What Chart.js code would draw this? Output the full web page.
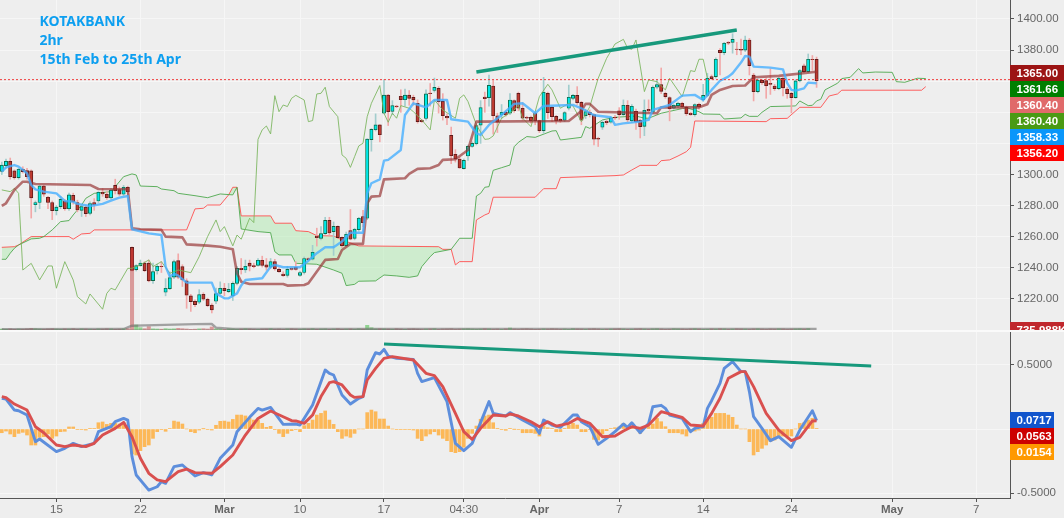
<!DOCTYPE html>
<html><head><meta charset="utf-8">
<script src="https://cdn.jsdelivr.net/npm/chart.js@4/dist/chart.umd.min.js"></script>
<style>
html,body{margin:0;padding:0;background:#eeeeee;width:1064px;height:518px;overflow:hidden}
canvas{position:absolute;left:0;display:block}
#sep{position:absolute;left:0;top:330px;width:1064px;height:1.5px;background:#fafafa}
</style></head><body>
<canvas id="main" width="1064" height="331" style="top:0"></canvas>
<canvas id="osc" width="1064" height="187" style="top:331px"></canvas>
<script>
const titleLines=["KOTAKBANK","2hr","15th Feb to 25th Apr"];
const xTickIdx=[13,33,53,71,91,110,128,147,167,188,212,232];
const xTickText=["15","22","Mar","10","17","04:30","Apr","7","14","24","May","7"];
const priceTicks=[1400,1380,1360,1340,1320,1300,1280,1260,1240,1220];
const macdTicks=[0.5,0,-0.5];
const priceTagText=["1365.00","1361.66","1360.40","1360.40","1358.33","1356.20"];
const priceTagColor=["#9c1414","#007f00","#e06a6a","#4a9a14","#0a96fa","#ff0000"];
const macdTagText=["0.0717","0.0563","0.0154"];
const macdTagColor=["#1155cc","#cc0000","#ff9900"];
const volumeTagText="735.988K";

const candleOpen=[1302,1305.7,1308.5,1302.3,1298,1303.4,1302.5,1302.3,1280.6,1282,1292.6,1285.4,1282,1276.8,1279.4,1283,1278,1286.6,1282,1277,1279,1275,1282,1283,1288.6,1287.3,1285,1293,1290.3,1287.3,1291.8,1253.2,1238.9,1241.4,1243,1243,1231.8,1238,1241,1224.3,1226.6,1234,1244.6,1240.8,1231.6,1222,1218.5,1217.9,1223,1219.8,1216,1218.5,1223.6,1226.9,1224.7,1222,1230,1239.7,1238.6,1243,1241.4,1241.6,1244.9,1242,1240.4,1244,1239,1236,1235.2,1239.7,1240.4,1235.2,1237,1246,1245.5,1260.5,1259,1262,1270.5,1263.3,1266.7,1259.6,1254.3,1264,1259,1264.6,1273,1271.9,1322.4,1328.8,1331.9,1339.4,1351,1340.6,1344,1350.3,1348.1,1351,1349.6,1345.8,1334.9,1336,1352.4,1354,1355.4,1347,1337.4,1325.2,1313,1310,1303.8,1311.9,1318,1319.8,1331.8,1349.8,1349.4,1356.9,1337.8,1338.3,1340,1339.4,1347.5,1352.2,1342.6,1336.8,1336.8,1339.4,1334.6,1328.2,1352.2,1343.2,1337.4,1335.5,1334.9,1342.6,1349,1350.9,1346.4,1337.9,1340,1338.5,1323.3,1330.4,1334.2,1333.6,1336.8,1341,1338.5,1344.5,1334.6,1340.7,1334.9,1331,1341.9,1340.2,1356.1,1357.8,1352.2,1349.4,1342.6,1344.3,1345.8,1343.2,1339.4,1338.5,1345.2,1348.1,1350.9,1362.9,1362.9,1379.9,1378.4,1385,1385,1380.6,1380.5,1380,1386.5,1364,1353.3,1360.6,1360.4,1358.6,1356.9,1355.2,1361.9,1355,1352.2,1349.4,1360.2,1369.8,1366.2,1374.1,1374];
const candleClose=[1306,1308.5,1298.6,1298,1303.4,1301.9,1298.6,1285,1282,1292.6,1287.3,1282,1276.8,1279,1284,1278,1286.9,1282.4,1277.2,1279.4,1274.9,1281.3,1280.6,1288.6,1287.5,1285.1,1290,1289.6,1287.3,1291.8,1289,1238.4,1241.4,1243,1238.2,1231.6,1237.6,1241,1240.8,1226.9,1233.7,1244,1234,1232.2,1222.4,1218.3,1216.4,1222.8,1219.8,1215.7,1213,1223.4,1226.9,1225.4,1226.2,1230,1239.7,1238.9,1241,1241,1240.8,1244.9,1241.6,1240.4,1244,1239.3,1237.6,1235,1239,1239,1239,1237,1246,1245.3,1250,1259.4,1262,1270.5,1262.4,1266.7,1259.4,1254.3,1261.6,1258.4,1264.8,1271.9,1269,1322.8,1329,1331.9,1325.6,1351,1340.4,1344.3,1343.6,1348.1,1351,1349,1348,1334,1334,1351.8,1352,1356,1346.8,1337.8,1336.4,1312.1,1310.2,1304.2,1309.1,1318.1,1320,1331.4,1343,1348.8,1357.3,1337.8,1333.6,1340,1338.3,1347.9,1341.1,1342.6,1336.2,1336.2,1334.6,1334.6,1328.2,1352.9,1339.8,1337.2,1334.6,1334.6,1339.8,1349.7,1350.9,1346.2,1334.9,1340.4,1338.5,1322.7,1322.7,1333.6,1333.4,1336.4,1336.4,1338.5,1344.5,1335.1,1343.9,1334,1330.8,1341.3,1340.9,1356.1,1357.8,1353.5,1350.1,1342.4,1344.5,1345.8,1343.7,1339.1,1338.5,1344.9,1343.4,1350.9,1361.9,1361.6,1374.1,1378.4,1384.4,1384.4,1386.9,1380.4,1379.9,1386.5,1370,1353.3,1360.6,1359,1357.1,1358,1355.2,1361.9,1355.7,1352,1349.4,1360.2,1366.8,1366.2,1374.1,1373.9,1360.4];
const candleHigh=[1308,1310,1310.6,1303,1304,1305,1304,1303,1283,1293,1293,1286,1283,1280,1286,1284,1288,1288,1283.5,1281,1280,1282.5,1284.5,1289,1291,1289,1291,1297,1292,1293,1292.5,1253.5,1242,1245,1244,1245,1243,1242.5,1244,1233,1237.5,1245,1249,1242,1233,1223,1219.5,1226,1224,1220.5,1217,1227,1231,1230,1230,1231,1241,1246,1245,1245,1243,1246,1247.5,1246,1246,1245.5,1240,1237.5,1241,1240,1244,1238,1247,1246.5,1254.5,1265.5,1266.5,1272.5,1272.5,1269.5,1267,1260,1263,1277.5,1265.5,1272.5,1277,1323,1329.5,1339,1332,1361,1351.5,1347.5,1344.5,1354.5,1355,1354,1351,1348,1335.5,1354.5,1358.5,1362,1356.5,1352,1339,1330.5,1316,1311,1310,1319,1321,1332,1347.5,1353,1364,1360.5,1339.5,1345,1341,1352,1348,1353,1346,1337.5,1337.5,1340,1335,1362.5,1353,1344,1338,1336,1340.5,1357.5,1351.5,1356.5,1347,1342,1341.5,1339,1324,1334.5,1335,1337,1338,1343,1348,1347.5,1345,1342,1335.5,1348,1348,1357,1361,1368.5,1353,1350,1345,1346.5,1346.5,1344,1340,1345.5,1346,1358,1365,1364,1375,1381,1385,1385.5,1390.5,1385,1387,1389,1387.5,1365,1361.5,1361,1362,1368,1358,1362.5,1362.5,1356,1353,1361,1367.5,1371,1377.5,1376.5,1375.5];
const candleLow=[1300,1304,1297,1297,1297,1301,1297,1272,1276,1278,1286,1278,1271,1274,1278,1277,1277,1281,1276,1273,1273,1274,1277,1282,1286,1284,1284,1287.5,1286.5,1286.5,1286.5,1238,1238,1241,1237.5,1231,1230,1236,1237,1222,1226,1233,1233,1228,1214,1212,1215,1217,1219,1215,1211,1217,1223,1222,1224,1219,1229,1236,1237,1238,1240,1241,1240.5,1238.5,1239.5,1238.5,1237,1234.5,1234,1238.5,1238.5,1234.5,1236,1244.5,1245,1254,1258,1261.5,1261,1248,1259,1253,1253.5,1258,1258,1263.5,1266.5,1271,1315,1328,1321,1339,1331.5,1338.5,1343,1340,1344,1344.5,1344.5,1333,1333.5,1335,1344,1353,1339.5,1335,1332,1307,1308,1304,1303.5,1309,1317.5,1319,1320,1340,1344,1326,1327,1336,1337.5,1338.5,1340,1341,1335,1335.5,1333,1332,1327,1326.5,1336,1334,1332.5,1333.5,1334,1341.5,1348,1345,1332,1336,1337,1319,1318,1329,1332,1333,1335.5,1335.5,1338,1334,1333.5,1329,1323.5,1325,1340,1339,1355,1352,1349,1334.5,1342,1343,1342.5,1338,1338,1337.5,1342,1347,1350,1361,1362,1364,1377,1383.5,1378,1377,1377,1379,1364,1347.3,1352.5,1358,1349,1351.5,1354,1354.5,1350.5,1349,1339.6,1349,1359.5,1365.5,1365.5,1367,1356];
const volume=[600,550,650,500,600,550,650,800,700,600,550,650,700,600,550,650,600,700,550,650,600,550,500,650,600,700,650,550,600,700,750,24300,1800,1000,700,1300,650,600,550,700,600,650,800,700,600,500,550,650,700,600,1200,650,600,500,700,650,550,600,700,650,550,500,600,650,700,550,600,500,650,700,600,550,650,600,700,550,600,650,500,600,700,550,600,650,550,700,600,1700,1000,650,700,650,600,550,700,600,500,650,700,600,550,600,650,700,500,600,650,700,550,600,650,700,600,550,600,700,650,550,600,500,650,900,600,550,650,700,600,500,550,650,600,700,650,550,600,500,700,650,600,550,650,700,600,500,550,600,650,700,600,500,550,650,700,600,550,650,700,600,500,550,700,650,600,550,650,700,600,500,550,650,600,700,650,550,600,700,650,600,550,650,700,600,550,650,600,700,650,550,600,650,700,600,736];
const volumeMaIdx=[0,29,31,34,46,50,51,55,194];
const volumeMaVal=[550,600,1590,1700,2050,2100,1000,600,600];

const tenkanIdx=[0,1,3,4,6,7,8,10,13,15,17,18,21,24,26,28,30,31,35,38,39,40,41,42,44,50,51,53,54,56,57,58,62,64,65,67,71,73,75,77,79,81,83,86,87,88,90,91,92,95,96,98,101,103,106,107,111,113,114,116,118,119,122,124,127,129,136,138,141,145,146,148,152,154,155,159,162,165,167,169,171,173,174,176,177,178,179,183,186,187,188,189,191,192,194];
const tenkanVal=[1301.9,1304.6,1306.1,1305.1,1300.8,1293.3,1290.5,1289,1287.9,1283,1282.6,1281.1,1279.8,1281.1,1283.2,1285.1,1286.2,1264.8,1262.2,1261.1,1240.8,1234.4,1236.1,1235,1230.5,1230.5,1223.6,1220.4,1220.4,1223.6,1228.7,1232.2,1233.3,1240.8,1241.9,1240.4,1240.4,1244.6,1249.4,1253.2,1253.2,1256.9,1262.6,1262.6,1287.9,1294.4,1296.9,1308.9,1309.4,1315.8,1338.3,1345.8,1343.2,1347.9,1347.9,1335.5,1334,1326.5,1325.4,1331.9,1336.2,1338.3,1345.4,1345.8,1339.4,1344.1,1344.7,1342.6,1338.1,1336.8,1331.9,1332.9,1334,1335.1,1341.5,1344.7,1350.7,1351.2,1347.9,1354.4,1360.3,1362.9,1365.1,1372,1376.2,1375.8,1369.4,1368.7,1367.6,1358.7,1354.4,1353.9,1355.4,1359.1,1358.7];
const kijunIdx=[0,1,3,5,6,8,21,23,30,31,33,38,39,43,44,49,52,55,56,57,59,67,68,72,73,77,80,81,83,86,87,88,90,91,96,97,99,102,104,105,108,111,113,135,138,139,140,142,146,156,157,166,168,169,171,174,177,179,185,194];
const kijunVal=[1279.8,1281.5,1290.1,1295.4,1295.4,1293.9,1293.3,1290.7,1290.5,1265.4,1264.8,1264.4,1260.1,1259.6,1255.1,1254.3,1253.6,1251.9,1236.5,1231.1,1229.6,1229.6,1228.6,1229,1230.1,1245.1,1245.7,1251.5,1255.4,1255.4,1281.5,1285.8,1286.2,1296.9,1297.6,1300.4,1303.6,1304,1306.1,1309.4,1309.8,1315.8,1334,1334.4,1340.9,1345.4,1345.4,1340.4,1340,1339.4,1343.2,1343.2,1345.2,1351.2,1354.4,1356.9,1357.2,1362.5,1363.4,1366.1];
const chikouIdx=[0,2,3,4,5,7,9,11,12,13,15,17,18,20,21,24,25,26,27,30,31,33,35,36,38,40,42,45,47,49,51,52,53,55,56,57,59,60,61,62,63,64,65,66,67,68,69,70,72,73,74,75,76,77,78,80,81,82,83,84,85,86,87,88,90,91,92,93,94,95,97,98,100,102,103,105,108,109,110,111,113,115,116,117,119,122,123,124,126,128,130,131,133,135,136,138,140,142,144,146,148,149,150,151,153,154,156,158,159,162,164,165,166,167,168];
const chikouVal=[1290.1,1289,1291.1,1287.9,1238.6,1242.9,1232.2,1241.2,1241.2,1226.9,1244,1232.2,1221.5,1216.8,1223.2,1213.4,1223.6,1226.9,1225.8,1239.7,1239.7,1241.9,1245.1,1240.8,1244,1236.5,1238.6,1236.9,1247.2,1260.1,1270.8,1263.3,1266.5,1254.1,1261.1,1258.4,1271.9,1269.1,1322.6,1328.7,1331.2,1326.1,1350.7,1340.4,1344.7,1343.7,1349,1350.9,1347.9,1334,1334.7,1351.8,1352.2,1356.1,1343.7,1337.2,1312.6,1310.4,1304.6,1311.5,1318.4,1320.1,1337.2,1345.8,1357.2,1339.4,1333.6,1339.4,1336.2,1344.3,1342.6,1340.4,1335.1,1328.7,1347.9,1341.5,1336.2,1349,1351.2,1346.9,1331.9,1322.6,1322.9,1324.8,1336.2,1341.5,1344.7,1336.2,1330.8,1350.1,1358,1354.4,1342.6,1345.8,1344.1,1334,1343.6,1361.9,1374.7,1383.9,1386.9,1381.2,1380.5,1386.5,1353.3,1360.8,1359.7,1354.4,1361.9,1350.1,1366.8,1366.2,1374.1,1374.1,1362];
const spanAIdx=[0,1,2,3,4,7,9,10,12,14,16,17,19,20,22,26,27,29,31,32,33,37,38,41,42,46,49,52,55,56,57,61,64,65,66,69,70,75,79,81,82,84,85,89,91,94,97,99,100,102,103,107,109,112,113,114,115,116,117,119,121,122,123,125,127,131,132,133,138,139,140,143,146,151,153,154,157,163,166,167,171,172,176,177,178,180,181,183,189,190,192,193,194,195,196,199,200,202,204,205,208,212,213,215,218,220];
const spanAVal=[1245.5,1245.5,1249.4,1252.6,1254.7,1258.6,1259,1260.1,1264.4,1269.7,1270.4,1274,1280.4,1284.7,1287.9,1289,1292.2,1298.6,1300.4,1299.7,1292.6,1292.2,1290.7,1289.6,1287.9,1286.4,1285.1,1287.5,1286.9,1291.8,1265,1263.3,1262.6,1250.4,1248.3,1248.3,1242.9,1242.3,1238.6,1236.5,1228.6,1229.4,1231.4,1231.6,1235.4,1234.8,1233.9,1234.8,1240.8,1247.2,1249.8,1251.9,1259,1259,1286.2,1287.9,1291.8,1292.2,1302.7,1304.4,1306.1,1317.9,1320.7,1324.4,1323.9,1328,1328.2,1322.2,1323.9,1330.8,1329.7,1335.1,1336.8,1337.6,1336.2,1336.2,1339.4,1343,1340.4,1338.9,1338.7,1335.7,1336.4,1338.7,1337.4,1337.4,1340,1343.7,1344.1,1347.3,1344.3,1344.5,1347.3,1348.4,1354.4,1358.7,1361.7,1362.5,1368.1,1365.3,1365.9,1365.7,1359.7,1359.3,1361.9,1361.7];
const spanBIdx=[0,3,4,7,16,17,19,21,22,44,46,48,49,52,54,55,56,57,64,65,69,70,73,75,79,81,85,104,105,107,108,109,112,113,115,116,117,127,129,132,133,146,148,150,152,156,157,159,161,163,164,165,182,183,187,190,195,197,199,200,219,220];
const spanBVal=[1253.2,1253.6,1254.7,1260.1,1260.1,1258.4,1261.8,1262.2,1264.4,1264.4,1277.9,1278.3,1280.4,1280.4,1286.9,1291.8,1291.8,1273.4,1273.4,1268.7,1268.7,1263.9,1263.3,1260.7,1260.5,1257.9,1254.1,1253.6,1251.9,1251.9,1241.9,1244,1244,1270.8,1274,1275.1,1285.4,1285.4,1290.9,1290.9,1298,1299.3,1299.7,1302.9,1305.9,1305.9,1308.9,1309.4,1311.9,1314.7,1317.5,1334.4,1334,1335.9,1336.1,1343.2,1343.2,1350.5,1351.8,1354.2,1354.2,1356.5];
const lastPriceLine=1361;
const priceTrendIdx=[113,175];
const priceTrendVal=[1365.9,1392.9];
const macdTrendIdx=[91,207];
const macdTrendVal=[0.664,0.492];

const macdIdx=[0,1,3,4,6,8,9,13,15,17,19,22,23,26,27,29,30,31,32,35,37,38,39,41,43,46,48,50,52,55,56,59,61,62,64,67,70,71,74,77,78,79,81,83,85,86,87,89,90,91,92,94,98,99,100,103,106,108,110,112,116,117,120,121,124,127,128,129,131,133,136,137,138,140,142,144,146,148,149,150,152,154,155,157,158,159,162,164,165,167,168,169,171,172,174,176,177,178,179,181,183,185,188,190,193,194];
const macdVal=[0.24,0.234,0.148,0.143,0.109,-0.099,-0.078,-0.177,-0.151,-0.112,-0.138,-0.112,-0.021,0.018,0.057,0.083,0.07,-0.216,-0.359,-0.477,-0.451,-0.411,-0.424,-0.294,-0.281,-0.367,-0.341,-0.359,-0.229,-0.125,-0.021,0.091,0.161,0.148,0.169,0.036,0.039,0.031,0.188,0.461,0.435,0.422,0.266,0.195,0.24,0.253,0.461,0.596,0.586,0.622,0.57,0.552,0.544,0.435,0.37,0.401,0.214,-0.112,-0.169,-0.112,0.214,0.122,0.102,0.128,0.07,0.018,-0.034,0.07,0.031,0.013,0.109,0.109,0.057,0.018,-0.12,-0.073,-0.021,0.039,0.013,0.049,-0.029,0.044,0.174,0.185,0.161,0.109,0.083,-0.021,0.005,0.018,0.161,0.221,0.357,0.474,0.526,0.448,0.448,0.292,0.096,0.005,-0.091,-0.06,-0.143,-0.008,0.143,0.065];
const signalIdx=[0,1,3,6,8,10,13,15,17,20,22,24,27,29,31,33,35,37,39,42,44,46,50,52,55,58,61,64,67,69,70,72,74,76,78,79,81,83,84,86,87,89,91,93,98,101,103,105,108,110,112,114,117,120,121,123,126,128,130,132,135,137,140,143,146,148,150,152,154,157,162,164,167,169,171,173,176,177,179,182,185,188,190,193,194];
const signalVal=[0.253,0.245,0.195,0.148,0.018,-0.029,-0.125,-0.138,-0.125,-0.138,-0.112,-0.047,0.005,0.052,-0.06,-0.229,-0.346,-0.398,-0.411,-0.333,-0.313,-0.341,-0.346,-0.294,-0.203,-0.047,0.083,0.141,0.096,0.065,0.063,0.044,0.109,0.253,0.362,0.37,0.344,0.266,0.247,0.253,0.383,0.474,0.552,0.565,0.539,0.435,0.417,0.331,0.122,-0.021,-0.081,0.005,0.109,0.102,0.117,0.102,0.057,0.018,0.057,0.023,0.044,0.083,0.044,-0.06,-0.055,-0.016,0.018,0.005,0.031,0.135,0.091,0.031,0.023,0.122,0.24,0.396,0.448,0.448,0.331,0.122,-0.008,-0.091,-0.065,0.063,0.065];
const histVal=[-0.029,-0.016,-0.039,-0.06,-0.034,-0.026,-0.047,-0.125,-0.125,-0.065,-0.06,-0.039,-0.073,-0.055,-0.021,-0.018,0.016,0.016,-0.003,-0.003,-0.008,0.005,0.005,0.049,0.055,0.036,0.044,0.044,0.039,0.049,0.023,-0.195,-0.203,-0.169,-0.138,-0.125,-0.073,-0.021,-0.005,-0.018,0.003,0.062,0.055,0.039,0,-0.021,-0.029,-0.008,0.001,-0.003,-0.008,0.029,0.06,0.062,0.055,0.075,0.109,0.109,0.102,0.083,0.07,0.07,0.044,0.013,0.021,-0.005,-0.034,-0.06,-0.034,-0.013,-0.005,-0.021,0.026,0.044,0.07,0.109,0.122,0.141,0.07,0.036,-0.021,-0.073,-0.055,-0.065,-0.034,0,0,0.128,0.148,0.135,0.078,0.078,0.023,0,-0.003,-0.003,-0.003,-0.003,-0.008,-0.073,-0.091,-0.055,-0.039,-0.021,-0.047,-0.073,-0.091,-0.177,-0.185,-0.177,-0.143,-0.073,-0.034,0.023,0.076,0.102,0.109,0.049,0.002,-0.005,-0.01,0.005,-0.001,-0.003,-0.029,-0.029,-0.029,-0.034,-0.055,0.023,0.01,0.003,-0.021,-0.021,0.005,0.031,0.044,0.031,-0.021,-0.021,-0.003,-0.081,-0.086,-0.039,-0.013,0.003,0.01,0.016,0.044,0.018,0.018,0.005,-0.034,0.005,0.018,0.039,0.083,0.057,0.018,-0.029,-0.029,-0.029,-0.039,-0.055,-0.021,-0.016,-0.008,0.044,0.07,0.091,0.122,0.122,0.122,0.109,0.091,0.031,0,0,-0.099,-0.203,-0.177,-0.151,-0.125,-0.099,-0.086,-0.06,-0.055,-0.055,-0.055,0,0.044,0.049,0.07,0.083,0.005];

const FONT='"Liberation Sans", Arial, sans-serif';
const xMin=-0.43,xMax=240.05,AXIS='#555555',GRID='#f6f6f6',LABEL='#666666';
const pts=(idx,val)=>idx.map((x,k)=>({x,y:val[k]}));
const line=(label,idx,val,color,width,order,extra)=>Object.assign({type:'line',label,data:pts(idx,val),borderColor:color,borderWidth:width,pointRadius:0,tension:0,fill:false,order,yAxisID:'y',borderJoinStyle:'round'},extra||{});
const bar=(label,data,color,thick,order,extra)=>Object.assign({type:'bar',label,data,backgroundColor:color,barThickness:thick,grouped:false,order,borderSkipped:false,yAxisID:'y'},extra||{});
const isUp=i=>candleClose[i]>candleOpen[i];
const wick=up=>candleHigh.map((h,i)=>isUp(i)===up?{x:i,y:[candleLow[i],h]}:null).filter(Boolean);
const body=up=>candleOpen.map((o,i)=>isUp(i)===up?{x:i,y:[Math.min(o,candleClose[i]),Math.max(o,candleClose[i])]}:null).filter(Boolean);
const vol=up=>volume.map((v,i)=>isUp(i)===up?{x:i,y:v}:null).filter(Boolean);
const noPad=s=>{s.paddingLeft=0;s.paddingRight=0;s.paddingTop=0;s.paddingBottom=0;};

const xScale=(showLabels)=>({type:'linear',min:xMin,max:xMax,offset:false,
  afterBuildTicks:s=>{s.ticks=xTickIdx.map(v=>({value:v}));},
  afterFit:s=>{s.height=showLabels?20:0;noPad(s);},
  border:{display:showLabels,color:AXIS,width:1},
  grid:{offset:false,color:GRID,lineWidth:1,drawTicks:showLabels,tickLength:4,tickColor:AXIS},
  ticks:{display:showLabels,autoSkip:false,maxRotation:0,padding:1,color:LABEL,
    font:c=>{const t=xTickText[xTickIdx.indexOf(c.tick?c.tick.value:-1)];return {family:FONT,size:11.5,weight:/^[A-Z]/.test(t||'')?'bold':'normal'};},
    callback:v=>xTickText[xTickIdx.indexOf(v)]||''}
});
const yScale=(min,max,tickVals,fmt)=>({position:'right',min,max,
  afterBuildTicks:s=>{s.ticks=tickVals.map(v=>({value:v}));},
  afterFit:s=>{s.width=54;noPad(s);},
  border:{color:AXIS,width:1},
  grid:{color:GRID,lineWidth:1,tickLength:4,tickColor:AXIS},
  ticks:{padding:3,color:LABEL,autoSkip:false,font:{family:FONT,size:11.5},callback:fmt}
});
const tags=(texts,colors,top,right)=>(ctx)=>{
  ctx.font='bold 11.5px '+FONT;ctx.textBaseline='middle';ctx.textAlign='left';
  texts.forEach((t,k)=>{const y=top+16*k;ctx.fillStyle=colors[k];ctx.fillRect(1010,y,right-1010,16);
    ctx.fillStyle='#ffffff';ctx.fillText(t,1016.5,y+8.5);});
};
const mainTags={id:'mainTags',afterDraw(c){const ctx=c.ctx;ctx.save();
  tags(priceTagText,priceTagColor,65,1064)(ctx);
  tags([volumeTagText],['#c0272d'],322,1064)(ctx);
  ctx.fillStyle='#0d9ff0';ctx.font='bold 14px "Noto Sans", sans-serif';ctx.textBaseline='alphabetic';ctx.textAlign='left';
  titleLines.forEach((t,k)=>ctx.fillText(t,39.5,26+19*k));
  ctx.restore();}};
const oscTags={id:'oscTags',afterDraw(c){const ctx=c.ctx;ctx.save();
  tags(macdTagText,macdTagColor,81,1054)(ctx);ctx.restore();}};

new Chart(document.getElementById('main'),{
  data:{datasets:[
    line('Span A',spanAIdx,spanAVal,'rgba(70,165,70,.85)',1,20),
    line('Span B',spanBIdx,spanBVal,'rgba(255,70,70,.85)',1,21,{fill:{target:0,above:'rgba(180,235,180,.55)',below:'rgba(225,225,225,.3)'}}),
    line('Trend',priceTrendIdx,priceTrendVal,'#17997c',3.4,1,{borderCapStyle:'butt'}),
    line('Last',[xMin,xMax],[lastPriceLine,lastPriceLine],'#f03c3c',1,2,{borderDash:[2,2]}),
    line('Tenkan',tenkanIdx,tenkanVal,'rgba(70,175,255,.8)',2.4,3),
    line('Kijun',kijunIdx,kijunVal,'rgba(150,50,50,.68)',2.6,4),
    line('Chikou',chikouIdx,chikouVal,'rgba(120,180,90,.85)',1,5),
    line('Volume MA',volumeMaIdx,volumeMaVal,'rgba(110,110,110,.6)',2.4,6,{yAxisID:'vol'}),
    line('Base',[xMin,99.8],[1199.75,1199.75],'#666666',1.4,6.5),
    bar('Vol up',vol(true),'rgba(70,190,70,.55)',3.4,7,{yAxisID:'vol'}),
    bar('Vol down',vol(false),'rgba(190,50,50,.45)',3.4,7.5,{yAxisID:'vol'}),
    bar('Body up',body(true),'#00e8e8',3.3,8,{borderColor:'#0b6a48',borderWidth:0.9}),
    bar('Body down',body(false),'#bf3a30',3.3,9,{borderColor:'#5c1a1a',borderWidth:0.9}),
    bar('Wick up',wick(true),'#a2cdcd',1,10),
    bar('Wick down',wick(false),'#f2a8a8',1,11)
  ]},
  options:{responsive:false,animation:false,devicePixelRatio:1,layout:{padding:0},
    plugins:{legend:{display:false},tooltip:{enabled:false}},
    scales:{x:xScale(false),
      y:yScale(1199.4,1412.2,priceTicks,v=>v.toFixed(2)),
      vol:{display:false,min:0,max:99300,position:'right',afterFit:s=>{s.width=0;noPad(s);}}}},
  plugins:[mainTags]
});
new Chart(document.getElementById('osc'),{
  data:{datasets:[
    line('Trend',macdTrendIdx,macdTrendVal,'#17997c',2.8,1),
    line('MACD',macdIdx,macdVal,'#5d8edc',2.9,3),
    line('Signal',signalIdx,signalVal,'#d9504f',2.9,2),
    bar('Histogram',histVal.map((v,i)=>({x:i,y:v})),'rgba(255,170,50,.8)',3,5)
  ]},
  options:{responsive:false,animation:false,devicePixelRatio:1,layout:{padding:0},
    plugins:{legend:{display:false},tooltip:{enabled:false}},
    scales:{x:xScale(true),
      y:yScale(-0.539,0.7656,macdTicks,v=>v===0?'':v.toFixed(4))}},
  plugins:[oscTags]
});
</script>
<div id="sep"></div>
</body></html>
